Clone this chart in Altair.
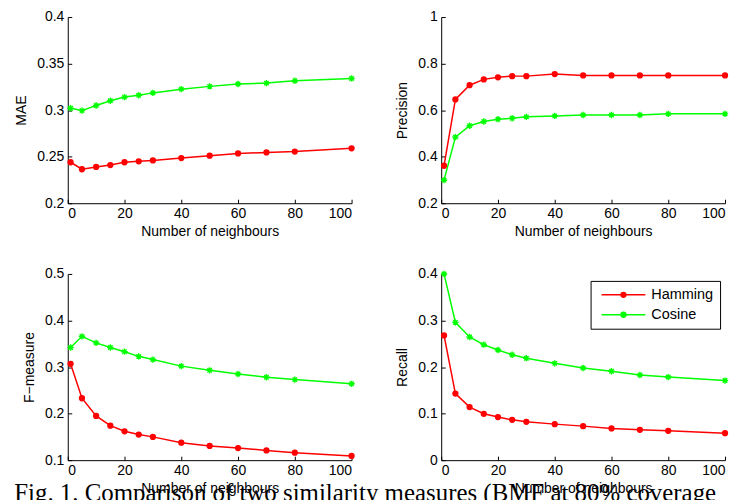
import altair as alt
import pandas as pd

# ---- data ----
neighbours = [1, 5, 10, 15, 20, 25, 30, 40, 50, 60, 70, 80, 100]
series_names = ["Hamming", "Cosine"]
series_colors = ["#ff0000", "#00ff00"]

mae_hamming = [0.244, 0.2365, 0.239, 0.241, 0.244, 0.245, 0.246, 0.2485, 0.251, 0.2535, 0.2545, 0.2555, 0.259]
mae_cosine = [0.302, 0.2995, 0.305, 0.310, 0.314, 0.316, 0.3185, 0.3225, 0.3255, 0.328, 0.329, 0.3315, 0.334]

prec_hamming = [0.361, 0.646, 0.707, 0.732, 0.741, 0.746, 0.746, 0.755, 0.749, 0.749, 0.749, 0.749, 0.749]
prec_cosine = [0.299, 0.484, 0.533, 0.551, 0.561, 0.565, 0.571, 0.575, 0.579, 0.579, 0.579, 0.584, 0.584]

f_hamming = [0.307, 0.233, 0.195, 0.174, 0.162, 0.155, 0.150, 0.1375, 0.1305, 0.126, 0.121, 0.116, 0.109]
f_cosine = [0.342, 0.366, 0.352, 0.342, 0.333, 0.323, 0.316, 0.302, 0.293, 0.285, 0.278, 0.273, 0.264]

rec_hamming = [0.268, 0.143, 0.114, 0.0996, 0.0925, 0.0867, 0.0824, 0.0774, 0.0731, 0.0681, 0.0652, 0.063, 0.058]
rec_cosine = [0.400, 0.296, 0.2645, 0.248, 0.2366, 0.2265, 0.219, 0.208, 0.198, 0.191, 0.183, 0.1785, 0.171]

x_ticks = [0, 20, 40, 60, 80, 100]
mae_ticks = [0.2, 0.25, 0.3, 0.35, 0.4]
prec_ticks = [0.2, 0.4, 0.6, 0.8, 1]
f_ticks = [0.1, 0.2, 0.3, 0.4, 0.5]
rec_ticks = [0, 0.1, 0.2, 0.3, 0.4]

x_title = "Number of neighbours"
caption = "Fig. 1. Comparison of two similarity measures (BMF at 80% coverage"

# ---- styling ----
W, H = 285, 187
FONT = "Liberation Sans"
ASTER = "M-1.3,0L1.3,0M0,-1.3L0,1.3M-0.9,-0.9L0.9,0.9M-0.9,0.9L0.9,-0.9"
LEG_PATH = "M-1,0H1M0.11,0A0.11,0.11,0,1,1,-0.11,0A0.11,0.11,0,1,1,0.11,0Z"


def panel(h_vals, c_vals, ytitle, ydomain, yticks, legend=None):
    df = pd.DataFrame({
        "n": neighbours * 2,
        "v": h_vals + c_vals,
        "s": [series_names[0]] * len(neighbours) + [series_names[1]] * len(neighbours),
    })
    xs = alt.Scale(domain=[0, 100], nice=False, zero=False)
    ys = alt.Scale(domain=ydomain, nice=False, zero=False)
    cs = alt.Scale(domain=series_names, range=series_colors)
    base = alt.Chart(df)
    line = base.mark_line(strokeWidth=1.5).encode(
        x=alt.X("n:Q", scale=xs, axis=alt.Axis(values=x_ticks, title=x_title, orient="bottom",
                                               ticks=False, tickSize=0, labelPadding=3, titlePadding=4,
                                               grid=False, domainColor="black")),
        y=alt.Y("v:Q", scale=ys, axis=alt.Axis(values=yticks, format="~g", title=ytitle, orient="left",
                                               ticks=False, tickSize=0, labelPadding=4, titlePadding=8,
                                               grid=False, domainColor="black")),
        color=alt.Color("s:N", scale=cs, legend=legend),
    )
    pts = base.mark_point(filled=True, size=24, strokeWidth=1.4, opacity=1).encode(
        x=alt.X("n:Q", scale=xs, axis=alt.Axis(values=x_ticks, orient="top", offset=-H, labels=False,
                                               domain=False, ticks=True, tickSize=4, tickColor="black",
                                               title=None, grid=False)),
        y=alt.Y("v:Q", scale=ys, axis=alt.Axis(values=yticks, orient="right", offset=-W, labels=False,
                                               domain=False, ticks=True, tickSize=4, tickColor="black",
                                               title=None, grid=False)),
        color=alt.Color("s:N", scale=cs, legend=None),
        stroke=alt.Stroke("s:N", scale=cs, legend=None),
        shape=alt.Shape("s:N", scale=alt.Scale(domain=series_names, range=["circle", ASTER]), legend=None),
    )
    return alt.layer(line, pts).resolve_axis(x="independent", y="independent").properties(width=W, height=H)


legend = alt.Legend(title=None, orient="none", legendX=150, legendY=7, symbolType=LEG_PATH,
                    symbolSize=1936, symbolStrokeWidth=1.5, clipHeight=16, labelFont=FONT,
                    labelFontSize=14.5, labelColor="black", labelOffset=5, symbolOffset=4,
                    padding=6, rowPadding=4, strokeColor="black", fillColor="white")

p1 = panel(mae_hamming, mae_cosine, "MAE", [0.2, 0.4], mae_ticks)
p2 = panel(prec_hamming, prec_cosine, "Precision", [0.2, 1], prec_ticks)
p3 = panel(f_hamming, f_cosine, "F\u2212measure", [0.1, 0.5], f_ticks)
p4 = panel(rec_hamming, rec_cosine, "Recall", [0, 0.4], rec_ticks, legend=legend)

chart = alt.concat(
    p1, p2, p3, p4, columns=2, spacing={"row": 71, "column": 90}, bounds="flush",
    title=alt.TitleParams(text=caption, orient="bottom", anchor="start", font="Liberation Serif",
                          fontSize=25, fontWeight="normal", color="black", offset=-14),
).resolve_scale(color="independent").resolve_legend(color="independent").properties(
    padding={"left": 6, "top": 0, "right": 0, "bottom": 0}, background="white"
).configure_axis(
    labelFont=FONT, titleFont=FONT, labelFontSize=14, titleFontSize=14, labelColor="black",
    titleColor="black", titleFontWeight="normal", domainWidth=1
).configure_view(stroke="transparent")

chart.save("out.html", embed_options={"renderer": "svg", "actions": False})
